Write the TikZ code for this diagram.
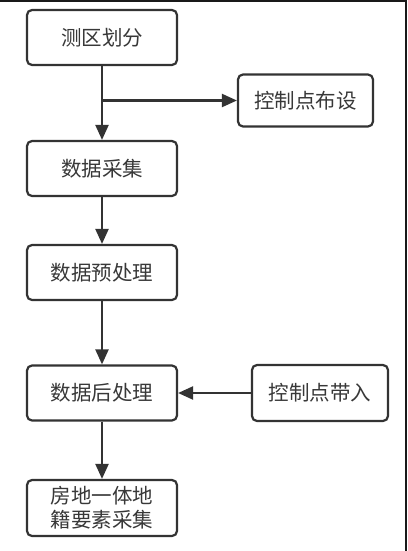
\documentclass[tikz,border=0pt]{standalone}
\usepackage{fontspec}
\setmainfont{Noto Sans CJK SC}
\usetikzlibrary{arrows.meta}
\definecolor{ink}{HTML}{333333}
\definecolor{txt}{HTML}{383838}
\tikzset{
  box/.style={draw=ink, line width=2.2pt, rounded corners=5pt, fill=white,
    minimum width=150pt, minimum height=55pt, inner sep=0pt, align=center,
    text=txt, font=\fontsize{20.5}{24}\selectfont},
  conn/.style={draw=ink, line width=2.2pt, -{Triangle[width=13pt,length=15pt]}}
}
\begin{document}
\begin{tikzpicture}[x=1pt,y=-1pt]
\useasboundingbox (0,0) rectangle (407,551);
\fill[white] (0,0) rectangle (407,551);
\fill[black!90] (0,0) rectangle (407,2.5);
\fill[black!90] (405,0) rectangle (407,551);
\node[box] (a) at (102,37.5) {测区划分};
\node[box, minimum width=135pt, minimum height=52pt] (b) at (305.5,100.5) {控制点布设};
\node[box] (c) at (102,168.5) {数据采集};
\node[box] (d) at (102,272.5) {数据预处理};
\node[box] (e) at (102,393) {数据后处理};
\node[box, minimum width=136pt, minimum height=56pt] (f) at (320,393) {控制点带入};
\node[box, minimum height=56pt] (g) at (102,508) {房地一体地\\籍要素采集};
\coordinate (j) at (a.south |- b.west);
\draw[conn] (a) -- (c);
\draw[conn] (j) -- (b.west);
\draw[conn] (c) -- (d);
\draw[conn] (d) -- (e);
\draw[conn] (f) -- (e);
\draw[conn] (e) -- (g);
\end{tikzpicture}
\end{document}
